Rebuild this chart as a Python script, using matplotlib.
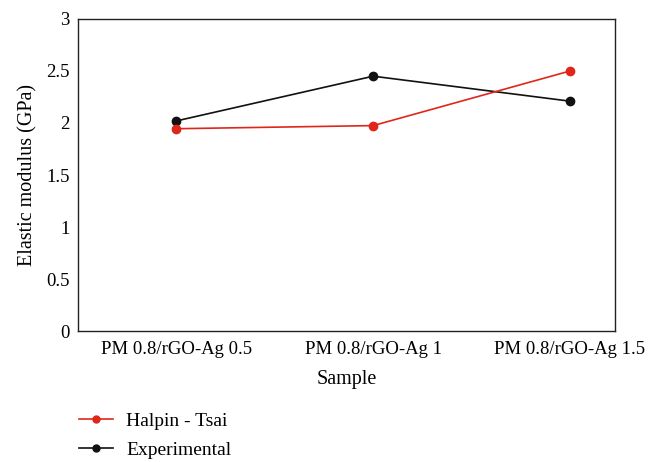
import matplotlib.pyplot as plt
from matplotlib.lines import Line2D

plt.rcParams['font.family'] = ['Liberation Serif', 'DejaVu Serif']

samples = ['PM 0.8/rGO-Ag 0.5', 'PM 0.8/rGO-Ag 1', 'PM 0.8/rGO-Ag 1.5']
halpin_tsai = [1.945, 1.975, 2.50]
experimental = [2.02, 2.45, 2.21]

red = '#e0261b'
black = '#111111'

fig = plt.figure(figsize=(6.58, 4.62), dpi=100)
ax = fig.add_axes([0.1185, 0.2835, 0.8165, 0.6754])

x = range(len(samples))
ax.plot(x, halpin_tsai, color=red, marker='o', markersize=6, linewidth=1.2,
        label='Halpin - Tsai', zorder=3)
ax.plot(x, experimental, color=black, marker='o', markersize=6, linewidth=1.2,
        label='Experimental', zorder=2)

ax.set_xlim(-0.5, 2.23)
ax.set_ylim(0, 3)
ax.set_yticks([0, 0.5, 1, 1.5, 2, 2.5, 3])
ax.set_yticklabels(['0', '0.5', '1', '1.5', '2', '2.5', '3'])
ax.set_xticks(list(x))
ax.set_xticklabels(samples)
ax.tick_params(axis='both', length=0, labelsize=13.5, pad=7)
ax.tick_params(axis='y', pad=6)
for s in ax.spines.values():
    s.set_linewidth(1.0)
    s.set_color('#222222')

ax.set_xlabel('Sample', fontsize=14.5, labelpad=9)
ax.set_ylabel('Elastic modulus (GPa)', fontsize=14.5, labelpad=6)

handles = [Line2D([], [], color=red, marker='o', markersize=5, linewidth=1.2),
           Line2D([], [], color=black, marker='o', markersize=5, linewidth=1.2)]
fig.legend(handles, ['Halpin - Tsai', 'Experimental'], loc='lower left',
           bbox_to_anchor=(0.093, -0.032), frameon=False, fontsize=14,
           handlelength=1.75, labelspacing=0.6, handletextpad=0.7)

fig.savefig('out.png', dpi=100)
